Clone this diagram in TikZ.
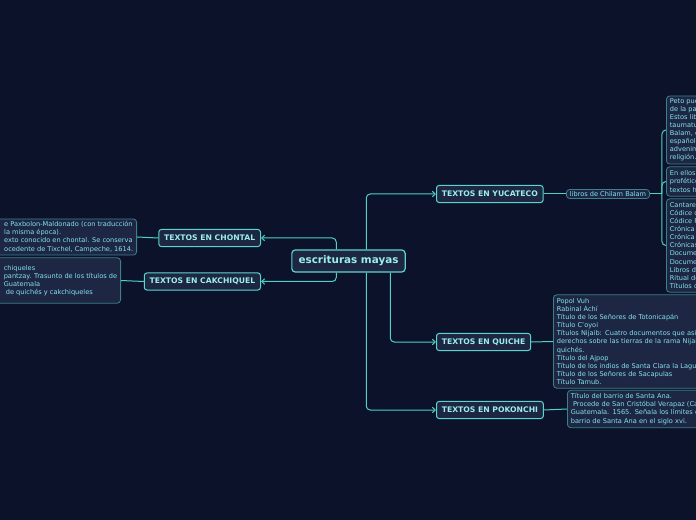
\documentclass[tikz,border=0pt]{standalone}
\usepackage{fontspec}
\setmainfont{DejaVu Sans}
\usetikzlibrary{arrows.meta,positioning,calc}
\definecolor{bgnavy}{HTML}{0B1229}
\definecolor{boxfill}{HTML}{1D2744}
\definecolor{wire}{HTML}{4FD1C5}
\definecolor{catline}{HTML}{5CD6CB}
\definecolor{cattext}{HTML}{9BEFE8}
\definecolor{leafline}{HTML}{3C8088}
\definecolor{leaftext}{HTML}{86E3EE}

\begin{document}
\begin{tikzpicture}[x=0.75pt,y=-0.75pt,
    root/.style={draw=catline, fill=boxfill, line width=0.9pt, rounded corners=2.5pt,
                 minimum height=16.5pt, inner xsep=5pt, text=cattext,
                 font=\fontsize{7.8}{9}\selectfont\bfseries},
    cat/.style={draw=catline, fill=boxfill, line width=0.75pt, rounded corners=2pt,
                minimum height=12.8pt, inner xsep=4pt, text=cattext,
                font=\fontsize{5.75}{7}\selectfont\bfseries},
    leaf/.style={draw=leafline, fill=boxfill, line width=0.6pt, rounded corners=2.5pt,
                 align=left, inner xsep=2.6pt, inner ysep=2pt, text=leaftext,
                 font=\fontsize{4.95}{6.05}\selectfont},
    wireto/.style={-{Straight Barb[length=2.2pt,width=4.2pt]}, wire, line width=0.75pt, rounded corners=3pt},
    wireplain/.style={wire, line width=0.75pt, rounded corners=3pt}]
  \fill[bgnavy] (0,0) rectangle (696,520);
  \useasboundingbox (0,0) rectangle (696,520);

  % centre and first level
  \node[root] (main) at (348.5,261) {escrituras mayas};
  \node[cat, anchor=east] (chontal) at (261,238) {TEXTOS EN CHONTAL};
  \node[cat, anchor=east] (cakchiquel) at (261,281.5) {TEXTOS EN CAKCHIQUEL};
  \node[cat, anchor=west] (yucateco) at (436,194) {TEXTOS EN YUCATECO};
  \node[cat, anchor=west] (quiche) at (436,342) {TEXTOS EN QUICHE};
  \node[cat, anchor=west] (pokonchi) at (436,410) {TEXTOS EN POKONCHI};

  \draw[wireto] ($(main.north west)+(45,0)$) |- (chontal.east);
  \draw[wireto] ($(main.south west)+(45,0)$) |- (cakchiquel.east);
  \draw[wireto] ($(main.north west)+(75,0)$) |- (yucateco.west);
  \draw[wireto] ($(main.south west)+(75,0)$) |- (pokonchi.west);
  \draw[wireto] ($(main.south west)+(99,0)$) |- (quiche.west);

  % left leaves
  \node[leaf, anchor=east, minimum height=27pt] (chontaltxt) at (137,237)
    {\hspace*{40pt}e Paxbolon-Maldonado (con traducción\\
     \hspace*{40pt}la misma época).\\
     \hspace*{40pt}exto conocido en chontal. Se conserva\\
     \hspace*{40pt}ocedente de Tixchel, Campeche, 1614.};
  \node[leaf, anchor=east, minimum height=34pt] (cakchtxt) at (121,280.5)
    {\hspace*{40pt}chiqueles\\
     \hspace*{40pt}pantzay. Trasunto de los títulos de\\
     \hspace*{40pt}Guatemala\\
     \hspace*{40pt}\ de quichés y cakchiqueles};
  \draw[wireplain] (chontal.west) -- (chontaltxt.east);
  \draw[wireplain] (cakchiquel.west) -- (cakchtxt.east);

  % yucateco
  \node[leaf, anchor=west, font=\fontsize{4.95}{6.4}\selectfont, inner ysep=1.5pt] (chilam) at (566,194) {libros de Chilam Balam};
  \draw[wireplain] (yucateco.east) -- (chilam.west);
  \node[leaf, anchor=west, text width=100pt, minimum height=51pt] (yuc1) at (666,130)
    {Peto pue\\de la pa\\Estos lib\\taumatu\\Balam, e\\españole\\advenim\\religión.};
  \node[leaf, anchor=west, text width=100pt, minimum height=22pt] (yuc2) at (666,181.5)
    {En ellos\\profético\\textos h};
  \node[leaf, anchor=west, text width=100pt, minimum height=70pt] (yuc3) at (666,245.5)
    {Cantares\\Códice d\\Códice P\\Crónica\\Crónica\\Crónicas\\Docume\\Docume\\Libros d\\Ritual de\\Títulos d};
  \coordinate (yucfork) at ($(chilam.east)+(12,0)$);
  \draw[wireplain] (chilam.east) -- (yucfork);
  \draw[wireplain] (yucfork) |- (yuc1.west);
  \draw[wireplain] (yucfork) |- (yuc2.west);
  \draw[wireplain] (yucfork) |- (yuc3.west);

  % quiche
  \node[leaf, anchor=west, text width=160pt, minimum height=70pt] (quichetxt) at (553,341.5)
    {Popol Vuh\\Rabinal Achí\\Título de los Señores de Totonicapán\\Título C'oyoi\\
     Títulos Nijaib: Cuatro documentos que asie\\derechos sobre las tierras de la rama Nijai\\
     quichés.\\Título del Ajpop\\Título de los indios de Santa Clara la Lagun\\
     Título de los Señores de Sacapulas\\Título Tamub.};
  \draw[wireplain] (quiche.east) -- (quichetxt.west);

  % pokonchi
  \node[leaf, anchor=west, text width=160pt, minimum height=28pt] (pokotxt) at (567,409)
    {Título del barrio de Santa Ana.\\
     \ Procede de San Cristóbal Verapaz (Ca\\
     Guatemala. 1565. Señala los límites d\\
     barrio de Santa Ana en el siglo xvi.};
  \draw[wireplain] (pokonchi.east) -- (pokotxt.west);
\end{tikzpicture}
\end{document}
